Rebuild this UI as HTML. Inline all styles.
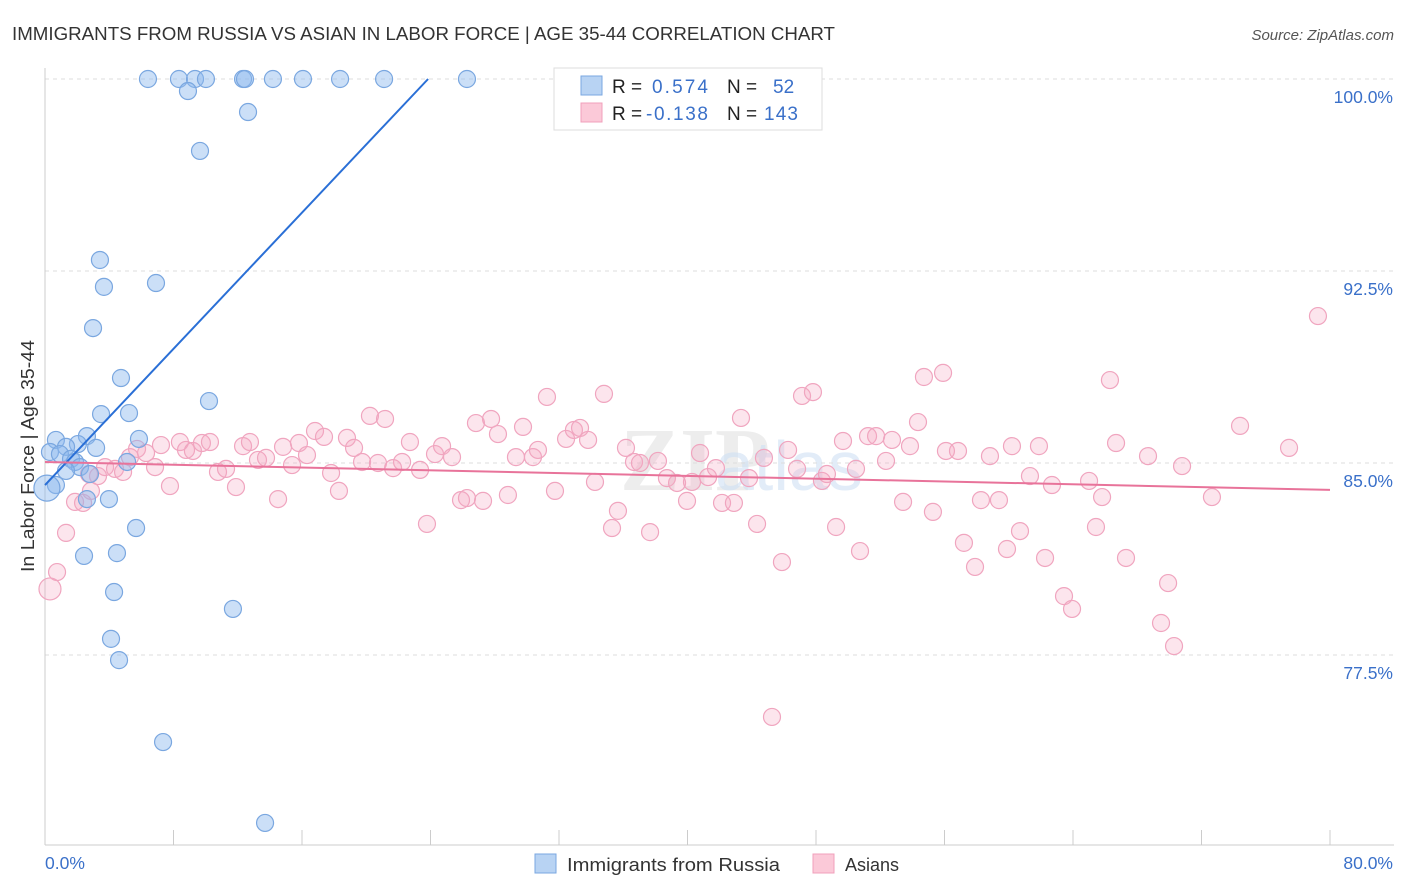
<!DOCTYPE html>
<html><head><meta charset="utf-8"><style>
body{margin:0;background:#fff;font-family:"Liberation Sans",sans-serif;}
svg{display:block}
</style></head><body>
<svg id="chart" width="1406" height="892" xmlns="http://www.w3.org/2000/svg">
<text x="12" y="40" font-size="18.5" fill="#333" textLength="823" lengthAdjust="spacingAndGlyphs">IMMIGRANTS FROM RUSSIA VS ASIAN IN LABOR FORCE | AGE 35-44 CORRELATION CHART</text>
<text x="1394" y="40" font-size="15" fill="#555" font-style="italic" text-anchor="end">Source: ZipAtlas.com</text>
<text x="34" y="456" font-size="18" fill="#333" text-anchor="middle" textLength="232" lengthAdjust="spacingAndGlyphs" transform="rotate(-90 34 456)">In Labor Force | Age 35-44</text>
<text x="620" y="490" font-size="90" fill="#ddd" font-family="Liberation Serif" font-weight="bold" opacity="0.5">ZIP</text>
<text x="715" y="490" font-size="70" fill="#cfe0f4" opacity="0.6">atlas</text>
<g id="grid"></g><g id="axes"></g><g id="pink"></g><g id="blue"></g><g id="lines"></g>
<g>
<rect x="554" y="68" width="268" height="62" fill="#fff" stroke="#ddd"/>
<rect x="581" y="76" width="21" height="19" fill="#b8d3f3" stroke="#7aa7e0"/>
<rect x="581" y="103" width="21" height="19" fill="#fbc9d8" stroke="#f0a0bb"/>
<text x="612" y="93" font-size="19" fill="#222">R =</text><text x="652" y="93" font-size="19" fill="#3a70c9" textLength="56">0.574</text>
<text x="727" y="93" font-size="19" fill="#222">N =</text><text x="773" y="93" font-size="19" fill="#3a70c9">52</text>
<text x="612" y="120" font-size="19" fill="#222">R =</text><text x="646" y="120" font-size="19" fill="#3a70c9" textLength="62">-0.138</text>
<text x="727" y="120" font-size="19" fill="#222">N =</text><text x="764" y="120" font-size="19" fill="#3a70c9" textLength="34">143</text>
</g>
<g>
<rect x="535" y="854" width="21" height="19" fill="#b8d3f3" stroke="#7aa7e0"/>
<text x="567" y="871" font-size="18" fill="#333" textLength="213" lengthAdjust="spacingAndGlyphs">Immigrants from Russia</text>
<rect x="813" y="854" width="21" height="19" fill="#fbc9d8" stroke="#f0a0bb"/>
<text x="845" y="871" font-size="18" fill="#333">Asians</text>
</g>
</svg>
<script>
const yTicks=[100,92.5,85,77.5];
const yTickLabels=["100.0%","92.5%","85.0%","77.5%"];
const xTickLabels=["0.0%","80.0%"];
const blueX=[6.41,8.34,9.34,10.02,12.33,12.45,14.19,16.06,18.37,21.11,26.27,8.90,12.64,9.65,3.42,3.67,6.91,2.99,4.73,10.21,5.23,3.49,5.85,0.68,2.61,2.05,1.31,3.18,0.31,0.93,1.62,1.87,5.11,2.18,1.31,2.80,0.68,0.12,3.98,2.61,5.67,2.43,4.48,4.30,11.70,4.11,4.61,7.35,13.70];
const blueY=[100,100,100,100,100,100,100,100,100,100,100,99.53,98.71,97.19,92.93,91.88,92.03,90.27,88.32,87.42,86.95,86.91,85.94,85.90,86.05,85.74,85.63,85.59,85.43,85.35,85.16,85.04,85.04,84.84,84.69,84.57,84.14,84.02,83.59,83.59,82.46,81.37,81.48,79.96,79.30,78.13,77.30,74.10,70.94];
const pinkX=[0.31,0.75,1.31,1.87,2.37,2.86,2.74,3.30,3.74,4.36,4.86,5.29,5.73,6.29,6.85,7.22,7.78,8.40,8.78,9.21,9.77,10.27,10.77,11.27,11.89,12.33,12.76,13.26,13.76,14.51,14.82,15.38,15.81,16.31,16.81,17.37,17.81,18.30,18.80,19.24,19.74,20.23,20.73,21.17,21.67,22.23,22.72,23.35,23.78,24.28,24.72,25.34,25.90,26.27,26.83,27.27,27.77,28.20,28.82,29.32,29.76,30.38,30.69,31.25,31.75,32.44,32.93,33.31,33.81,34.24,34.80,35.30,35.67,36.17,36.67,37.04,37.67,38.16,38.72,39.35,39.97,40.28,40.78,41.28,41.77,42.15,42.89,43.33,43.83,44.33,44.76,45.88,46.26,46.82,47.13,47.81,48.37,48.68,49.25,49.68,50.49,50.74,51.24,51.74,52.36,52.73,53.42,53.85,54.35,54.72,55.28,55.91,56.09,56.84,57.21,57.90,58.27,58.83,59.39,59.89,60.20,60.70,61.32,61.88,62.26,62.69,63.44,63.94,65.00,65.81,65.43,66.30,66.68,67.30,68.67,69.48,69.92,70.29,70.79,72.65,74.40,77.45,79.25,45.26];
const pinkY=[80.08,80.74,82.27,83.48,83.44,83.91,84.57,84.49,84.84,84.77,84.65,85.23,85.55,85.39,84.84,85.70,84.10,85.82,85.51,85.47,85.78,85.82,84.65,84.77,84.06,85.66,85.82,85.12,85.20,83.59,85.63,84.92,85.78,85.31,86.25,86.02,84.61,83.91,85.98,85.59,85.04,86.84,85.00,86.72,84.80,85.04,85.82,84.73,82.62,85.35,85.66,85.23,83.55,83.63,86.56,83.52,86.72,86.13,83.75,85.23,86.41,85.23,85.51,87.58,83.91,85.94,86.29,86.37,85.90,84.26,87.70,82.46,83.13,85.59,85.04,85.00,82.30,85.08,84.41,84.22,83.52,84.26,85.39,84.45,84.80,83.44,83.44,86.76,84.41,82.62,85.20,81.13,85.51,84.77,87.62,87.77,84.30,84.57,82.50,85.86,84.77,81.56,86.05,86.05,85.08,85.90,83.48,85.66,86.60,88.36,83.09,88.52,85.47,85.47,81.88,80.94,83.55,85.27,83.55,81.64,85.66,82.34,84.49,85.66,81.29,84.14,79.80,79.30,84.30,83.67,82.50,88.24,85.78,81.29,85.27,78.75,80.31,77.85,84.88,83.67,86.45,85.59,90.74,75.08];
const blueFit=[[0,84.14],[23.85,100]];
const pinkFit=[[0,85.04],[80,83.95]];
const NS="http://www.w3.org/2000/svg";
const xS=v=>45+v*(1285/80);
const yS=v=>79+(100-v)*25.6;
function mk(t,a,p){const e=document.createElementNS(NS,t);for(const k in a)e.setAttribute(k,a[k]);document.getElementById(p).appendChild(e);return e;}
yTicks.forEach((t,i)=>{
 const g=mk('line',{x1:45,x2:1394,y1:yS(t),y2:yS(t),stroke:'#ddd','stroke-dasharray':'4,4'},'grid');
 
 
 const l=mk('text',{x:1393,y:yS(t)+24,'font-size':17.5,fill:'#3a70c9','text-anchor':'end'},'axes');
 l.textContent=yTickLabels[i];
 
 
});
mk('line',{x1:45,x2:45,y1:68,y2:845,stroke:'#ccc'},'axes');
mk('line',{x1:45,x2:1394,y1:845,y2:845,stroke:'#ccc'},'axes');
for(let i=1;i<=10;i++){mk('line',{x1:xS(i*8),x2:xS(i*8),y1:830,y2:845,stroke:'#ccc'},'axes');}
[[0,'start',45],[1,'end',1393]].forEach(([i,a,x])=>{
 const l=mk('text',{x:x,y:869,'font-size':17.5,fill:'#3a70c9','text-anchor':a},'axes');
 l.textContent=xTickLabels[i];
 
 
});
pinkX.forEach((v,i)=>{
 const c=mk('circle',{cx:xS(v),cy:yS(pinkY[i]),r:i==0?11:8.5,fill:'rgba(246,170,195,0.3)',stroke:'#f0a5bf','stroke-width':1.2},'pink');
 
 
});
blueX.forEach((v,i)=>{
 const c=mk('circle',{cx:xS(v),cy:yS(blueY[i]),r:i==37?13:8.5,fill:'rgba(140,185,238,0.45)',stroke:'#7aa7e0','stroke-width':1.2},'blue');
 
 
});
const bl=mk('line',{x1:xS(blueFit[0][0]),y1:yS(blueFit[0][1]),x2:xS(blueFit[1][0]),y2:yS(blueFit[1][1]),stroke:'#2a6fd6','stroke-width':2},'lines');


const pl=mk('line',{x1:xS(pinkFit[0][0]),y1:yS(pinkFit[0][1]),x2:xS(pinkFit[1][0]),y2:yS(pinkFit[1][1]),stroke:'#e8739a','stroke-width':2},'lines');


</script>
</body></html>
